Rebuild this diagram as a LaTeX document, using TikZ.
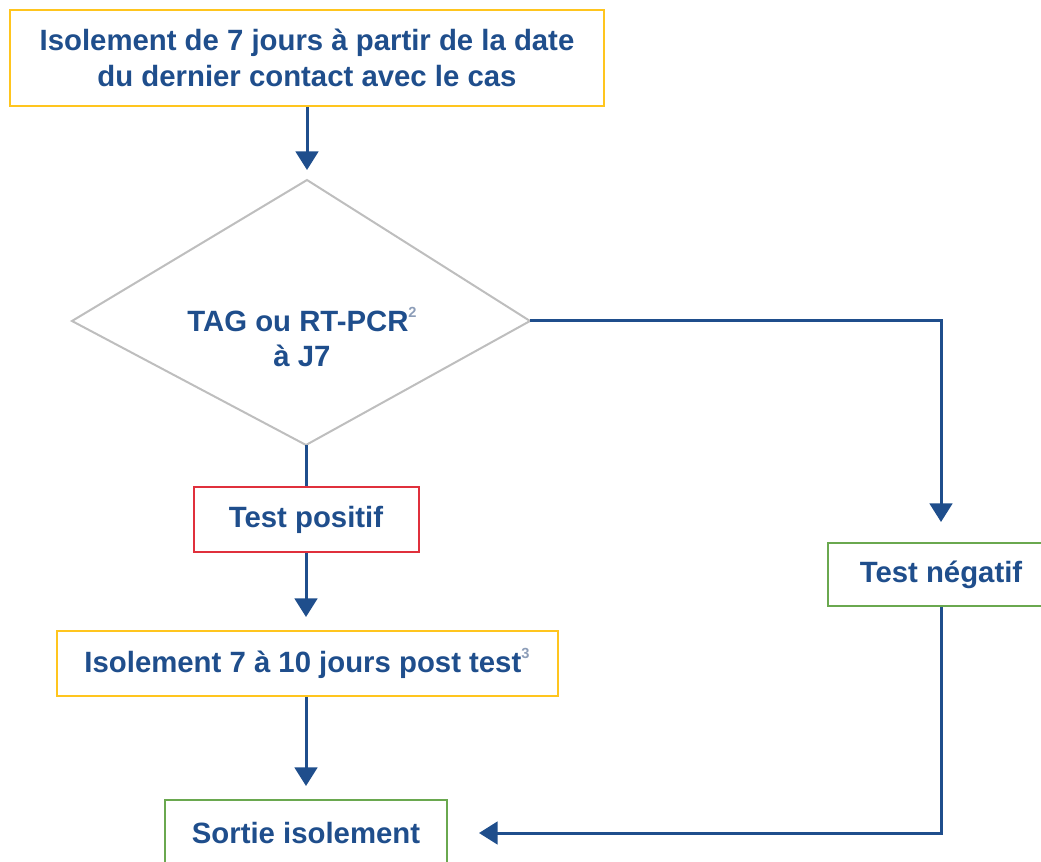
\documentclass[tikz,border=0pt]{standalone}
\usepackage{fontspec}
\setmainfont{Liberation Sans}
\newfontfamily\lab{Liberation Sans}
\usetikzlibrary{arrows.meta}
\definecolor{nblue}{HTML}{1F4E8C}
\definecolor{nsup}{HTML}{8C9DB8}
\definecolor{nyellow}{HTML}{FFC51E}
\definecolor{nred}{HTML}{E0303C}
\definecolor{ngreen}{HTML}{6AA84F}
\definecolor{ngray}{HTML}{BEBEBE}
\newcommand{\supr}[1]{\raisebox{0.5em}{\fontsize{11}{11}\selectfont\color{nsup}#1}}
\begin{document}
\begin{tikzpicture}[x=0.75pt,y=-0.75pt,
  txt/.style={text=nblue, font=\lab\bfseries\fontsize{22}{27}\selectfont, align=center},
  box/.style={txt, draw, line width=1.5pt, fill=white, inner sep=0pt},
  ybox/.style={box, draw=nyellow},
  rbox/.style={box, draw=nred},
  gbox/.style={box, draw=ngreen},
  dia/.style={draw=ngray, line width=1.5pt, line join=miter},
  conn/.style={draw=nblue, line width=2.25pt},
  arr/.style={conn, -{Triangle[width=17pt,length=14pt]}}
]
\useasboundingbox (0,0) rectangle (1041,862);
\clip (0,0) rectangle (1041,862);

\node[ybox, minimum width=445.5pt, minimum height=72pt] (top) at (307,58)
  {Isolement de 7 jours à partir de la date\\du dernier contact avec le cas};

\coordinate (dN) at (307,180);
\coordinate (dE) at (530,321);
\coordinate (dS) at (306,445);
\coordinate (dW) at (72,321);
\draw[dia] (dN) -- (dE) -- (dS) -- (dW) -- cycle;
\node[txt, font=\lab\bfseries\fontsize{22}{26}\selectfont] (dtext) at (302,337)
  {TAG ou RT-PCR\supr{2}\\à J7};

\node[rbox, minimum width=168.75pt, minimum height=48.75pt] (pos) at (306,519.5) {Test positif};
\node[ybox, minimum width=375.75pt, minimum height=48.75pt] (iso) at (307,663.5)
  {Isolement 7 à 10 jours post test\supr{3}};
\node[gbox, minimum width=169.5pt, minimum height=47.25pt] (neg) at (941,574.5) {Test négatif};
\node[gbox, minimum width=211.5pt, minimum height=49.5pt] (out) at (306,833) {Sortie isolement};

\draw[arr, shorten >=7.5pt] (top.south -| dN) -- (dN);
\draw[conn] (dS) -- (dS |- pos.north);
\draw[arr, shorten >=15pt] (dE) -| (neg.north);
\draw[arr, shorten >=9.75pt] (pos.south) -- (pos.south |- iso.north);
\draw[arr, shorten >=9.75pt] (iso.south -| pos.south) -- (pos.south |- out.north);
\draw[arr, shorten >=23.25pt] (neg.south) |- (out.east);
\end{tikzpicture}
\end{document}
